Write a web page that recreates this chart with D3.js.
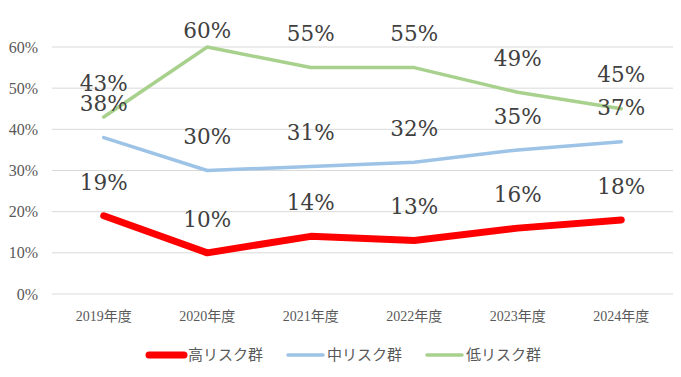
<!DOCTYPE html>
<html>
<head>
<meta charset="utf-8">
<script src="https://cdn.jsdelivr.net/npm/d3@7"></script>
<style>
  body { margin: 0; background: #fff; }
</style>
</head>
<body>
<div id="chart"></div>
<script>
// datos
const years = ["2019年度", "2020年度", "2021年度", "2022年度", "2023年度", "2024年度"];
const seriesNames = ["高リスク群", "中リスク群", "低リスク群"];
const high = [19, 10, 14, 13, 16, 18];
const mid = [38, 30, 31, 32, 35, 37];
const low = [43, 60, 55, 55, 49, 45];
const yTicks = [0, 10, 20, 30, 40, 50, 60];

const colors = ["#FF0000", "#9DC3E6", "#A9D18E"];
const widths = [7, 3.5, 3.5];
const seriesData = [high, mid, low];

const W = 681, H = 377;
const margin = { top: 47, right: 8, bottom: 83, left: 52 };
const width = W - margin.left - margin.right;
const height = H - margin.top - margin.bottom;

const serif = "'Liberation Serif', 'Noto Sans CJK JP', serif";
const labelFont = "'DejaVu Serif', serif";

const svg = d3.select("#chart").append("svg")
    .attr("width", W)
    .attr("height", H)
  .append("g")
    .attr("transform", `translate(${margin.left},${margin.top})`);

const x = d3.scaleBand().domain(years).range([0, width]);
const y = d3.scaleLinear().domain([0, 60]).range([height, 0]);

// gridlines
svg.append("g")
  .selectAll("line")
  .data(yTicks)
  .enter().append("line")
    .attr("x1", 0).attr("x2", width)
    .attr("y1", d => y(d)).attr("y2", d => y(d))
    .style("stroke", "#D9D9D9")
    .style("stroke-width", 1);

// eje Y
const yAxis = svg.append("g")
    .call(d3.axisLeft(y).tickValues(yTicks).tickFormat(d => d + "%").tickSize(0).tickPadding(14));
yAxis.select(".domain").remove();
yAxis.selectAll("text")
    .style("font-family", serif)
    .style("font-size", "16px")
    .style("fill", "#595959");

// eje X
const xAxis = svg.append("g")
    .attr("transform", `translate(0,${height})`)
    .call(d3.axisBottom(x).tickSize(0).tickPadding(17));
xAxis.select(".domain").remove();
xAxis.selectAll("text")
    .style("font-family", serif)
    .style("font-size", "14px")
    .style("fill", "#595959");

const line = d3.line()
    .x((d, i) => x(years[i]) + x.bandwidth() / 2)
    .y(d => y(d));

// lines: blue, green, then red on top
[1, 2, 0].forEach(k => {
  svg.append("path")
    .datum(seriesData[k])
    .attr("d", line)
    .style("fill", "none")
    .style("stroke", colors[k])
    .style("stroke-width", widths[k])
    .style("stroke-linejoin", "round")
    .style("stroke-linecap", "round");
});

// etiquetas de datos (encima del punto, sin salir del área)
seriesData.forEach((vals, k) => {
  svg.append("g")
    .selectAll("text")
    .data(vals)
    .enter().append("text")
      .attr("x", (d, i) => x(years[i]) + x.bandwidth() / 2)
      .attr("y", d => Math.max(y(d) - 34, -17))
      .attr("dy", "0.36em")
      .attr("text-anchor", "middle")
      .style("font-family", labelFont)
      .style("font-size", "21.5px")
      .style("fill", "#404040")
      .text(d => d + "%");
});

// leyenda
const legendX = [149, 288, 427];
const legend = d3.select("svg").append("g");
seriesNames.forEach((name, k) => {
  const g = legend.append("g").attr("transform", `translate(${legendX[k]},355)`);
  g.append("line")
    .attr("x1", 0).attr("x2", 35)
    .attr("y1", 0).attr("y2", 0)
    .style("stroke", colors[k])
    .style("stroke-width", widths[k])
    .style("stroke-linecap", "round");
  g.append("text")
    .attr("x", 39)
    .attr("dy", "0.36em")
    .style("font-family", serif)
    .style("font-size", "15px")
    .style("fill", "#595959")
    .text(name);
});
</script>
</body>
</html>
